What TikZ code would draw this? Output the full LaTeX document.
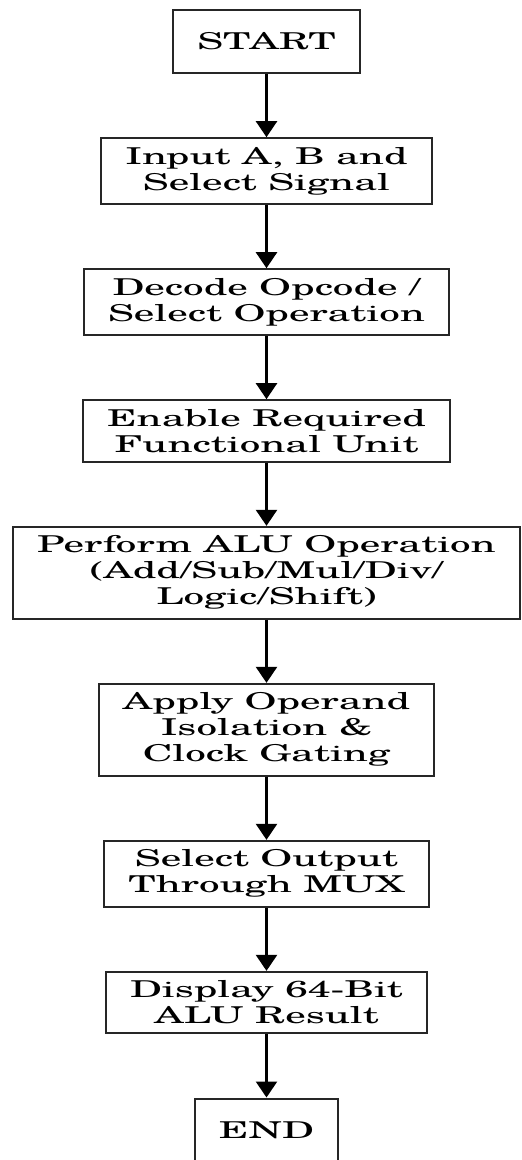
\documentclass[tikz,border=0pt]{standalone}
\usepackage{fontspec}
\setmainfont{TeX Gyre Schola}[FakeStretch=1.77]
\usepackage{tikz}
\usetikzlibrary{positioning,arrows.meta}
\tikzset{
  stepbox/.style={draw=black!85, line width=1pt, align=center,
    inner xsep=12pt, inner ysep=4.5pt,
    font=\fontsize{11.6pt}{13pt}\selectfont},
  termbox/.style={stepbox, minimum height=31.5pt},
  flow/.style={draw=black, line width=1.2pt, -{Triangle[width=10.5pt,length=8pt]}}
}

\begin{document}
\begin{tikzpicture}[node distance=31.6pt]
  \useasboundingbox (-133.25pt,20.75pt) rectangle (127.75pt,-559.25pt);

  \node[termbox] (start) at (0,0) {START};
  \node[stepbox, below=of start] (input) {Input A, B and\\Select Signal};
  \node[stepbox, below=of input] (decode) {Decode Opcode /\\Select Operation};
  \node[stepbox, below=of decode] (enable) {Enable Required\\Functional Unit};
  \node[stepbox, below=of enable] (perform) {Perform ALU Operation\\(Add/Sub/Mul/Div/\\Logic/Shift)};
  \node[stepbox, below=of perform] (isolate) {Apply Operand\\Isolation \&\\Clock Gating};
  \node[stepbox, below=of isolate] (mux) {Select Output\\Through MUX};
  \node[stepbox, below=of mux] (display) {Display 64-Bit\\ALU Result};
  \node[termbox, below=of display] (finish) {END};

  \foreach \a/\b in {start/input, input/decode, decode/enable, enable/perform,
                     perform/isolate, isolate/mux, mux/display, display/finish}
    \draw[flow] (\a) -- (\b);
\end{tikzpicture}
\end{document}
